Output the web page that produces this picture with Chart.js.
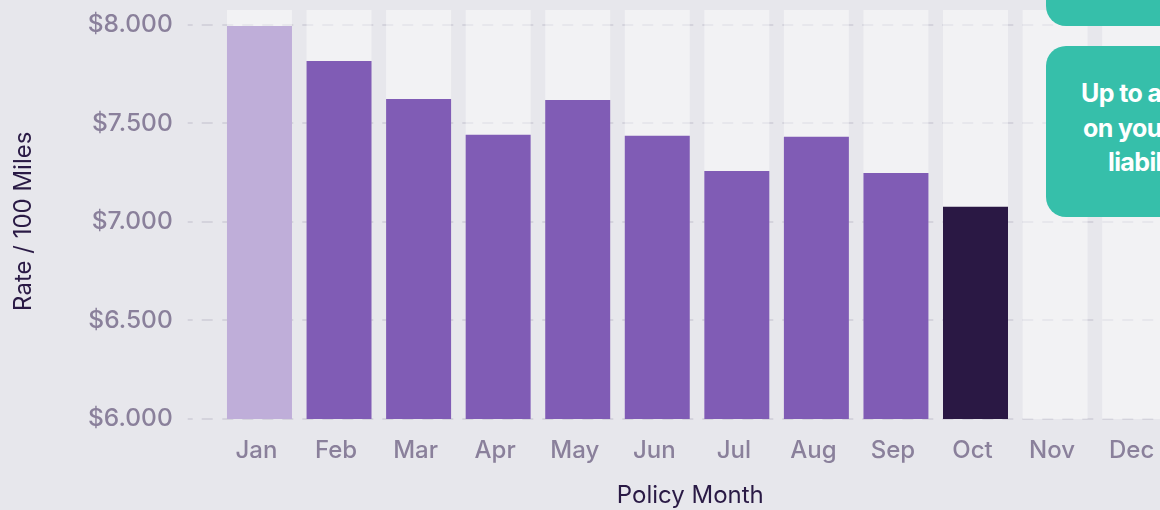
<!DOCTYPE html>
<html>
<head>
<meta charset="utf-8">
<script src="https://cdn.jsdelivr.net/npm/chart.js@4"></script>
<style>
  html, body { margin: 0; padding: 0; background: #e7e7ec; overflow: hidden; }
  #wrap { position: relative; width: 1160px; height: 510px; overflow: hidden; }
  #chart1 { position: absolute; left: 0; top: 0; }
  .callout { position: absolute; left: 1046px; width: 320px; background: #36bfaa; border-radius: 20px;
             color: #fff; font-family: Inter, sans-serif; font-weight: 700; font-size: 25px;
             letter-spacing: -0.6px; }
  .callout .ln { white-space: nowrap; height: 34.5px; line-height: 34.5px; }
</style>
</head>
<body>
<div id="wrap">
  <canvas id="chart1" width="1180" height="510"></canvas>
  <div class="callout" style="top:-150px;height:176px;"></div>
  <div class="callout" style="top:46px;height:171px;padding-top:30px;box-sizing:border-box;">
    <div class="ln" style="padding-left:35px">Up to a 10% discount</div>
    <div class="ln" style="padding-left:37px">on your general</div>
    <div class="ln" style="padding-left:62px">liability policy</div>
  </div>
</div>
<script>
// data
var months = ["Jan", "Feb", "Mar", "Apr", "May", "Jun", "Jul", "Aug", "Sep", "Oct", "Nov", "Dec"];
var rates  = [7993, 7816, 7623, 7441, 7618, 7436, 7258, 7431, 7248, 7076, null, null];
var yTicks = [6000, 6500, 7000, 7500, 8000];
var yMin = 6000, yMax = 8074;
var xTitle = "Policy Month";
var yTitle = "Rate / 100 Miles";

var lastIdx = rates.reduce(function (a, v, i) { return v != null ? i : a; }, 0);
var track = months.map(function () { return yMax; });

var tickColor = '#8a809b';
var titleColor = '#2a1a45';
var gridColor = '#d4d3dc';
var font = 'Inter';
var dash = [11, 9];
var tickLen = 32;

// dashed tick marks left of the plot, same pattern as the grid
var tickMarks = {
    id: 'tickMarks',
    beforeDatasetsDraw: function (chart) {
        var y = chart.scales.y, c = chart.ctx, left = chart.chartArea.left;
        c.save();
        c.strokeStyle = gridColor;
        c.lineWidth = 2;
        c.setLineDash(dash);
        c.lineDashOffset = 6;
        yTicks.forEach(function (v) {
            var py = Math.round(y.getPixelForValue(v));
            c.beginPath();
            c.moveTo(left - tickLen, py);
            c.lineTo(left, py);
            c.stroke();
        });
        c.restore();
    }
};

var ctx = document.getElementById('chart1').getContext('2d');
var chart = new Chart(ctx, {
    type: 'bar',
    data: {
        labels: months,
        datasets: [{
            label: 'rate',
            data: rates,
            backgroundColor: function (c) {
                if (c.dataIndex === 0) return '#bfaed9';
                if (c.dataIndex === lastIdx) return '#2a1844';
                return '#805cb5';
            },
            grouped: false,
            order: 1,
            categoryPercentage: 1,
            barPercentage: 0.817
        }, {
            label: 'track',
            data: track,
            backgroundColor: 'rgba(255,255,255,0.45)',
            grouped: false,
            order: 2,
            categoryPercentage: 1,
            barPercentage: 0.817
        }]
    },
    plugins: [tickMarks],
    options: {
        responsive: false,
        animation: false,
        layout: { padding: { top: 10, right: 5.6, left: 0, bottom: 0 } },
        plugins: { legend: { display: false }, tooltip: { enabled: false } },
        scales: {
            x: {
                grid: { display: false, drawTicks: false },
                border: { display: false },
                ticks: {
                    color: tickColor,
                    font: { family: font, size: 24, weight: '500' },
                    padding: 17,
                    labelOffset: -3
                },
                title: {
                    display: true,
                    text: xTitle + '  ',
                    color: titleColor,
                    font: { family: font, size: 24 },
                    padding: { top: 0, bottom: 0 }
                },
                afterFit: function (s) {
                    s.height = 91;
                    s.paddingLeft = 0;
                    s.paddingRight = 0;
                }
            },
            y: {
                min: yMin,
                max: yMax,
                border: { display: false, dash: dash, dashOffset: 17.7 },
                grid: {
                    color: gridColor,
                    lineWidth: 2,
                    drawTicks: false
                },
                ticks: {
                    color: tickColor,
                    font: { family: font, size: 24.5, weight: '500' },
                    padding: 15 + tickLen,
                    callback: function (v) { return '$' + (v / 1000).toFixed(3); }
                },
                afterBuildTicks: function (s) {
                    s.ticks = yTicks.map(function (v) { return { value: v }; });
                },
                title: {
                    display: true,
                    text: yTitle + '  ',
                    color: titleColor,
                    font: { family: font, size: 24 },
                    padding: { top: 9, bottom: 0 }
                },
                afterFit: function (s) {
                    s.width = 219.7;
                    s.paddingTop = 0;
                    s.paddingBottom = 0;
                }
            }
        }
    }
});
</script>
</body>
</html>
